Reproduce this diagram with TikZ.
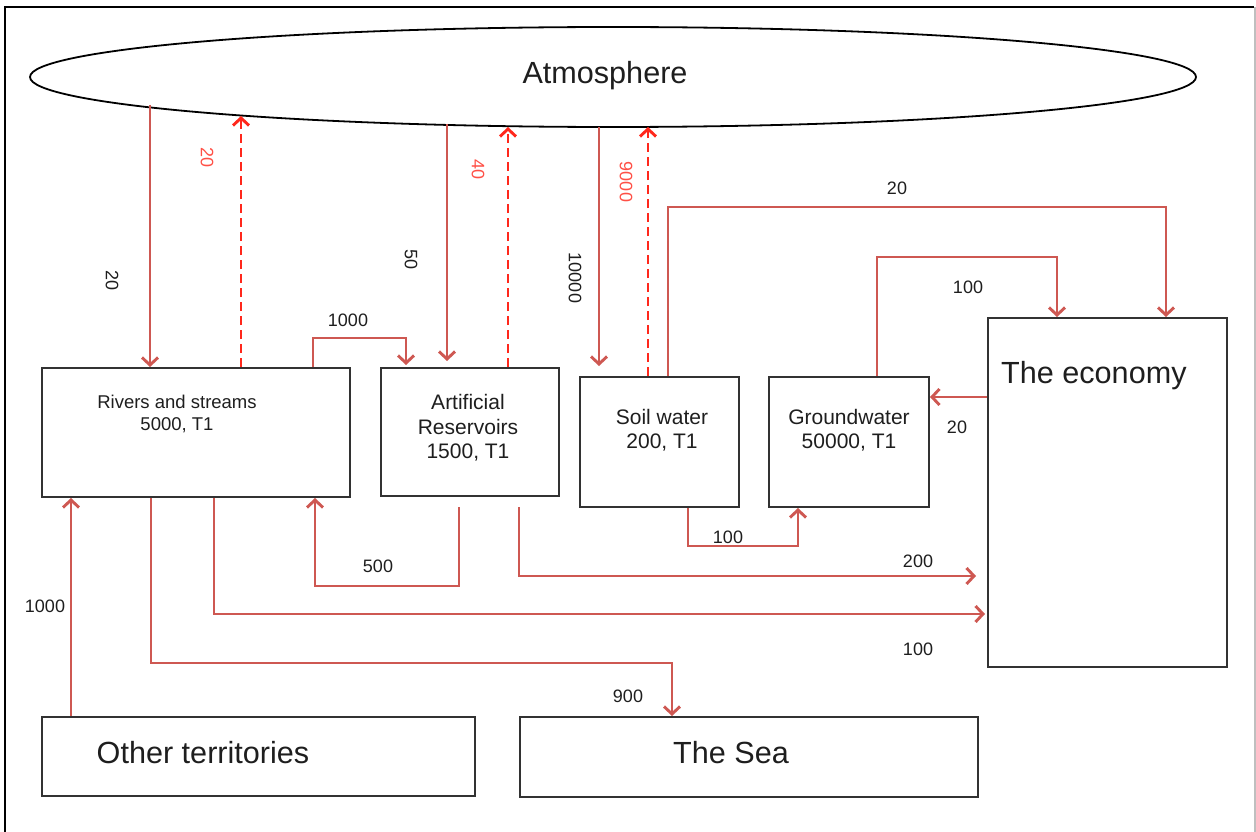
\documentclass[tikz,border=0pt]{standalone}
\usepackage{fontspec}
\setmainfont{Liberation Sans}
\usetikzlibrary{arrows.meta,shapes.geometric}
\definecolor{flow}{RGB}{206,88,82}
\definecolor{evap}{RGB}{255,40,28}
\definecolor{evaplab}{RGB}{255,80,70}
\definecolor{boxline}{RGB}{50,50,50}
\definecolor{txt}{RGB}{30,30,30}
\tikzset{
  box/.style={draw=boxline, line width=2pt, inner sep=0pt, anchor=north west},
  flowarrow/.style={draw=flow, line width=2.9pt, line join=miter, -{Straight Barb[length=7.5pt,width=16pt]}},
  evaparrow/.style={draw=evap, line width=2.9pt, dash pattern=on 9pt off 5pt, -{Straight Barb[length=7.5pt,width=16pt]}},
  numlab/.style={text=txt, font=\fontsize{18}{21}\selectfont, inner sep=0pt},
  evlab/.style={text=evaplab, font=\fontsize{18}{21}\selectfont, inner sep=0pt},
  bigtext/.style={text=txt, font=\fontsize{30.6}{36}\selectfont, inner sep=0pt},
  midtext/.style={text=txt, font=\fontsize{21}{24.5}\selectfont, align=center, inner sep=0pt},
  smalltext/.style={text=txt, font=\fontsize{18.5}{22}\selectfont, align=center, inner sep=0pt}
}
\begin{document}
\begin{tikzpicture}[x=1pt,y=-1pt]
\useasboundingbox (0,0) rectangle (1256,832);
% frame
\draw[black, line width=2.8pt] (5,832) -- (5,7) -- (1254,7);
\draw[black!25, line width=1.5pt] (1255,7) -- (1255,832);

% nodes
\node[draw=black, line width=1.8pt, ellipse, minimum width=1166pt, minimum height=100pt, inner sep=0pt] (atm) at (613,77) {};
\node[bigtext] (atmt) at (605,76) {Atmosphere};

\node[box, minimum width=308pt, minimum height=129pt] (riv) at (41,367) {};
\node[smalltext] (rivt) at (177,414) {Rivers and streams\\5000, T1};

\node[box, minimum width=178pt, minimum height=128pt] (res) at (380,367) {};
\node[midtext] (rest) at (468,428) {Artificial\\Reservoirs\\1500, T1};

\node[box, minimum width=159pt, minimum height=130pt] (soil) at (579,376) {};
\node[midtext] (soilt) at (662,430) {Soil water\\200, T1};

\node[box, minimum width=160pt, minimum height=130pt] (grd) at (768,376) {};
\node[midtext] (grdt) at (849,430) {Groundwater\\50000, T1};

\node[box, minimum width=239pt, minimum height=349pt] (eco) at (987,317) {};
\node[bigtext, anchor=west] (ecot) at (1001,376) {The economy};

\node[box, minimum width=433pt, minimum height=79pt] (oth) at (41,716) {};
\node[bigtext] (otht) at (203,753) {Other territories};

\node[box, minimum width=458pt, minimum height=80pt] (sea) at (519,716) {};
\node[bigtext] (seat) at (731,753) {The Sea};

% points on the atmosphere ellipse
\coordinate (e1) at (150,105);
\coordinate (e2) at (241,116);
\coordinate (e4) at (447,124);
\coordinate (e5) at (508,127);
\coordinate (e6) at (599,127);
\coordinate (e7) at (648,127);

% atmosphere <-> stores
\draw[flowarrow] (e1) -- (e1 |- riv.north);
\draw[evaparrow] (e2 |- riv.north) -- (e2);
\draw[flowarrow, shorten >=6pt] (e4) -- (e4 |- res.north);
\draw[evaparrow] (e5 |- res.north) -- (e5);
\draw[flowarrow, shorten >=10pt] (e6) -- (e6 |- soil.north);
\draw[evaparrow] (e7 |- soil.north) -- (e7);

% rivers -> reservoirs 1000
\coordinate (c3a) at (313,338);
\coordinate (c3b) at (406,338);
\draw[flowarrow, shorten >=2pt] (riv.north -| c3a) |- (c3b) -- (c3b |- res.north);

% soil -> economy 20
\coordinate (c8a) at (668,207);
\coordinate (c8b) at (1166,207);
\draw[flowarrow] (soil.north -| c8a) |- (c8b) -- (c8b |- eco.north);

% groundwater -> economy 100
\coordinate (c9a) at (877,257);
\coordinate (c9b) at (1057,257);
\draw[flowarrow] (grd.north -| c9a) |- (c9b) -- (c9b |- eco.north);

% economy -> groundwater 20
\coordinate (c10) at (987,397);
\draw[flowarrow] (eco.west |- c10) -- (c10 -| grd.east);

% soil -> groundwater 100
\coordinate (c11a) at (688,546);
\coordinate (c11b) at (798,546);
\draw[flowarrow] (soil.south -| c11a) |- (c11b) -- (c11b |- grd.south);

% reservoirs -> rivers 500
\coordinate (c12a) at (459,507);
\coordinate (c12c) at (315,586);
\draw[flowarrow] (c12a) |- (c12c) -- (c12c |- riv.south);

% reservoirs -> economy 200
\coordinate (c13a) at (519,507);
\coordinate (c13b) at (519,576);
\draw[flowarrow, shorten >=11pt] (c13a) -- (c13b) -- (c13b -| eco.west);

% rivers -> economy 100
\coordinate (c14) at (214,614);
\draw[flowarrow, shorten >=2pt] (riv.south -| c14) |- (c14 -| eco.west);

% rivers -> sea 900
\coordinate (c15a) at (151,663);
\coordinate (c15b) at (672,663);
\draw[flowarrow] (riv.south -| c15a) |- (c15b) -- (c15b |- sea.north);

% other territories -> rivers 1000
\coordinate (c16) at (71,600);
\draw[flowarrow] (oth.north -| c16) -- (riv.south -| c16);

% labels
\node[numlab, rotate=-90] (l1) at (112,281) {20};
\node[evlab, rotate=-90] (l2) at (207,158) {20};
\node[numlab, rotate=-90] (l4) at (411,260) {50};
\node[evlab, rotate=-90] (l5) at (478,170) {40};
\node[numlab, rotate=-90] (l6) at (575,278) {10000};
\node[evlab, rotate=-90] (l7) at (626,182) {9000};
\node[numlab] (l3) at (348,320) {1000};
\node[numlab] (l8) at (897,188) {20};
\node[numlab] (l9) at (968,287) {100};
\node[numlab] (l10) at (957,427) {20};
\node[numlab] (l11) at (728,537) {100};
\node[numlab] (l12) at (378,566) {500};
\node[numlab] (l13) at (918,561) {200};
\node[numlab] (l14) at (918,649) {100};
\node[numlab] (l15) at (628,696) {900};
\node[numlab] (l16) at (45,606) {1000};
\end{tikzpicture}
\end{document}
